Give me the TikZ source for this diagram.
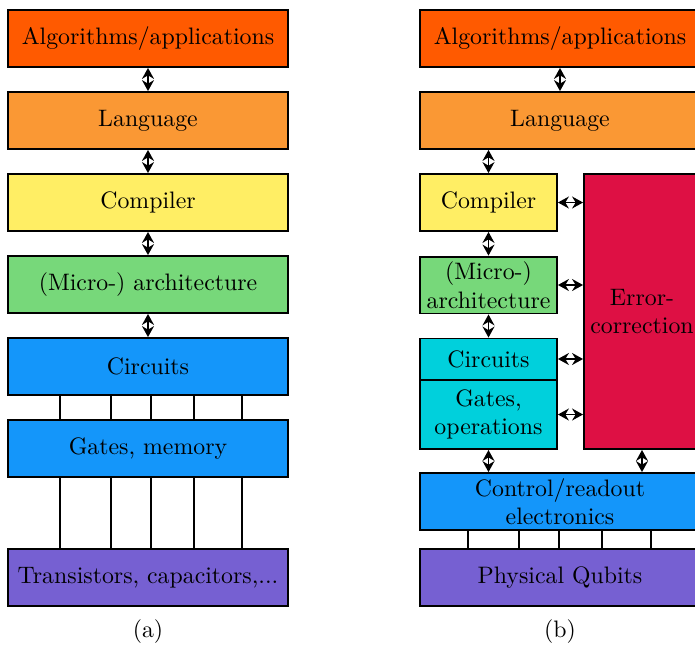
\documentclass[tikz,border=0pt]{standalone}
\usepackage{tikz}
\usetikzlibrary{arrows.meta}
\usepackage{xcolor}
\definecolor{ColAlgo}{RGB}{255,90,0}
\definecolor{ColLang}{RGB}{250,152,52}
\definecolor{ColComp}{RGB}{255,238,100}
\definecolor{ColArch}{RGB}{119,216,122}
\definecolor{ColCirc}{RGB}{20,150,250}
\definecolor{ColOps}{RGB}{0,208,220}
\definecolor{ColErr}{RGB}{222,16,68}
\definecolor{ColPhys}{RGB}{118,96,210}
\tikzstyle{Layer}=[rectangle,draw=black,thick,inner sep=1pt,align=center,
minimum width=117.6pt,minimum height=23.9pt]
\tikzstyle{HalfLayer}=[Layer,minimum width=57.5pt]
\tikzstyle{ArcLayer}=[thick,{Stealth[length=4.6pt,width=5pt]}-{Stealth[length=4.6pt,width=5pt]}]
\tikzstyle{WireLayer}=[thick]

\begin{document}
\begin{tikzpicture}[x=0.42pt,y=-0.42pt]
        \useasboundingbox (0,0) rectangle (695,645);
        % (a) classical stack
        \node[Layer,fill=ColAlgo](algoA)at(148,38.5){Algorithms/applications};
        \node[Layer,fill=ColLang](langA)at(148,120.5){Language};
        \node[Layer,fill=ColComp](compA)at(148,202.5){Compiler};
        \node[Layer,fill=ColArch](archA)at(148,284.5){(Micro-) architecture};
        \node[Layer,fill=ColCirc](circA)at(148,366.5){Circuits};
        \node[Layer,fill=ColCirc](gateA)at(148,448.5){Gates, memory};
        \node[Layer,fill=ColPhys](physA)at(148,577.5){Transistors, capacitors,...};
        \node(capA)at(148,632){(a)};
        \draw[ArcLayer](algoA)--(langA);
        \draw[ArcLayer](langA)--(compA);
        \draw[ArcLayer](compA)--(archA);
        \draw[ArcLayer](archA)--(circA);
        \foreach \x in {60,111,151,194,242}{
            \draw[WireLayer](circA.south -| \x,0)--(gateA.north -| \x,0);
            \draw[WireLayer](gateA.south -| \x,0)--(physA.north -| \x,0);
        }
        % (b) quantum stack
        \node[Layer,fill=ColAlgo](algoB)at(560,38.5){Algorithms/applications};
        \node[Layer,fill=ColLang](langB)at(560,120.5){Language};
        \node[HalfLayer,fill=ColComp](compB)at(488.5,202.5){Compiler};
        \node[HalfLayer,fill=ColArch](archB)at(488.5,285){(Micro-)\\architecture};
        \node[HalfLayer,fill=ColOps,minimum height=17.2pt](circB)at(488.5,359){Circuits};
        \node[HalfLayer,fill=ColOps,minimum height=29pt](gateB)at(488.5,414.5){Gates,\\operations};
        \node[Layer,fill=ColErr,minimum width=48.7pt,minimum height=115.5pt](errB)at(642,311.5){Error-\\correction};
        \node[Layer,fill=ColCirc](ctrlB)at(560,501.5){Control/readout\\electronics};
        \node[Layer,fill=ColPhys](physB)at(560,577.5){Physical Qubits};
        \node(capB)at(560,632){(b)};
        \draw[ArcLayer](algoB)--(langB);
        \draw[ArcLayer](langB.south -| compB)--(compB);
        \draw[ArcLayer](compB)--(archB);
        \draw[ArcLayer](archB)--(circB);
        \foreach \n in {compB,archB,circB,gateB}
            \draw[ArcLayer](\n.east)--(\n.east -| errB.west);
        \draw[ArcLayer](gateB)--(gateB.south |- ctrlB.north);
        \draw[ArcLayer](errB)--(errB.south |- ctrlB.north);
        \foreach \x in {468,519,559,602,651}
            \draw[WireLayer](ctrlB.south -| \x,0)--(physB.north -| \x,0);
    \end{tikzpicture}
\end{document}
